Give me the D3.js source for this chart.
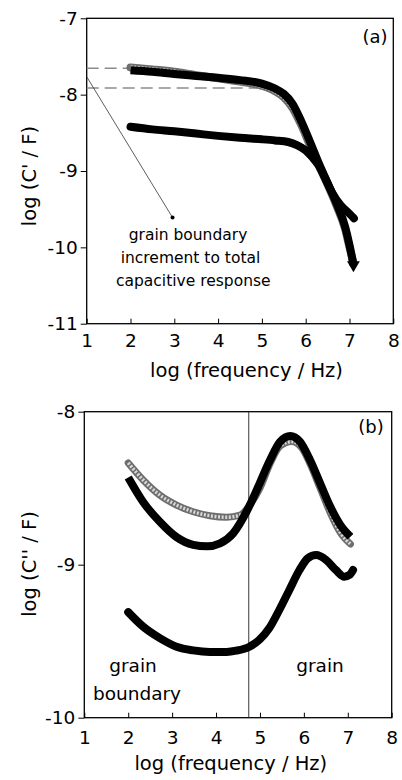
<!DOCTYPE html>
<html><head><meta charset="utf-8">
<script src="https://cdn.jsdelivr.net/npm/d3@7"></script>
<style>
html,body{margin:0;padding:0;background:#fff;}
svg{display:block;}
text{font-family:"DejaVu Sans",sans-serif;fill:#000;}
</style>
</head><body>
<svg id="c" width="402" height="780"></svg>
<script>
// ---------- shared ticks / labels ----------
const xTicks = [1, 2, 3, 4, 5, 6, 7, 8];
const yTicksA = [-7, -8, -9, -10, -11];
const yTicksB = [-8, -9, -10];
const xTitle = "log (frequency / Hz)";
const yTitleA = "log (C' / F)";
const yTitleB = "log (C'' / F)";

// ---------- panel (a): log C' ----------
const aUpperTri = [[2.0,-7.68],[2.5,-7.70],[3.0,-7.73],[3.5,-7.755],[4.0,-7.78],[4.5,-7.81],[5.0,-7.855],[5.3,-7.92],[5.5,-7.99],[5.7,-8.12],[5.9,-8.35],[6.1,-8.62],[6.3,-8.90],[6.5,-9.16],[6.7,-9.42],[6.9,-9.73],[7.0,-9.97],[7.09,-10.23]];
const aUpperOpen = [[2.0,-7.645],[2.5,-7.67],[3.0,-7.70],[3.5,-7.745],[4.0,-7.785],[4.5,-7.83],[5.0,-7.885],[5.3,-7.955],[5.5,-8.035],[5.7,-8.175],[5.9,-8.40],[6.1,-8.67],[6.3,-8.93],[6.5,-9.18],[6.7,-9.45],[6.9,-9.76],[7.0,-10.0],[7.09,-10.2]];
const aLowerCirc = [[2.0,-8.42],[2.5,-8.455],[3.0,-8.48],[3.5,-8.51],[4.0,-8.54],[4.5,-8.565],[5.0,-8.585],[5.3,-8.60],[5.6,-8.62],[5.8,-8.66],[6.0,-8.73],[6.15,-8.82],[6.3,-8.93],[6.45,-9.10],[6.6,-9.28],[6.8,-9.45],[7.0,-9.56],[7.1,-9.62]];
const aDashLevel = [-7.655, -7.913];
const aDashEnd = [2.0, 4.9];
const aLeader = [[1.0,-7.765],[2.96,-9.61]];
const aNote = ["grain boundary", "increment to total", "capacitive response"];

// ---------- panel (b): log C'' ----------
const bOpen = [[2.0,-8.335],[2.34,-8.446],[2.72,-8.545],[3.10,-8.61],[3.48,-8.654],[3.86,-8.68],[4.24,-8.69],[4.55,-8.675],[4.77,-8.61],[5.0,-8.50],[5.23,-8.34],[5.46,-8.225],[5.72,-8.195],[5.95,-8.235],[6.14,-8.34],[6.37,-8.50],[6.6,-8.66],[6.83,-8.79],[7.06,-8.865]];
const bTri = [[2.0,-8.43],[2.34,-8.59],[2.72,-8.72],[3.10,-8.82],[3.48,-8.87],[3.79,-8.88],[4.09,-8.86],[4.39,-8.795],[4.70,-8.65],[4.93,-8.51],[5.23,-8.316],[5.46,-8.196],[5.69,-8.159],[5.91,-8.196],[6.14,-8.316],[6.37,-8.468],[6.6,-8.62],[6.83,-8.74],[7.06,-8.817]];
const bCirc = [[2.0,-9.31],[2.34,-9.405],[2.72,-9.48],[3.10,-9.536],[3.48,-9.56],[3.86,-9.57],[4.24,-9.57],[4.46,-9.562],[4.76,-9.536],[4.99,-9.49],[5.21,-9.416],[5.44,-9.296],[5.67,-9.165],[5.90,-9.035],[6.09,-8.958],[6.28,-8.937],[6.51,-8.97],[6.73,-9.035],[6.92,-9.078],[7.04,-9.067],[7.12,-9.035]];
const bDivider = 4.745;
const bNotesLeft = ["grain", "boundary"];
const bNoteRight = "grain";

const svg = d3.select("#c");

const xa = d3.scaleLinear().domain([1, 8]).range([86.7, 393.3]);
const ya = d3.scaleLinear().domain([-11, -7]).range([323.7, 18.3]);
const xb = d3.scaleLinear().domain([1, 8]).range([84.3, 391.7]);
const yb = d3.scaleLinear().domain([-10, -8]).range([717.7, 411.7]);

function axes(x, y, yTicks, xPad, titleCx, titleBase, yTitle, yTitleCy) {
  const [x0, x1] = x.range();
  const [y0, y1] = y.range();
  const gx = svg.append("g").attr("transform", `translate(0,${y0})`)
    .call(d3.axisBottom(x).tickValues(xTicks).tickSize(-5).tickPadding(xPad).tickFormat(d => String(d)));
  gx.select(".domain").remove();
  gx.attr("font-size", 18.5).attr("font-family", "DejaVu Sans");
  gx.selectAll("line").attr("stroke", "#000").attr("stroke-width", 1);
  const gy = svg.append("g").attr("transform", `translate(${x0},0)`)
    .call(d3.axisLeft(y).tickValues(yTicks).tickSize(6).tickPadding(3).tickFormat(d => String(d)));
  gy.select(".domain").remove();
  gy.attr("font-size", 18.5).attr("font-family", "DejaVu Sans");
  gy.selectAll("line").attr("stroke", "#000").attr("stroke-width", 1);
  svg.append("rect").attr("x", x0).attr("y", y1).attr("width", x1 - x0).attr("height", y0 - y1)
    .attr("fill", "none").attr("stroke", "#000").attr("stroke-width", 1.3);
  svg.append("text").attr("x", titleCx).attr("y", titleBase).attr("text-anchor", "middle")
    .attr("font-size", 19.5).text(xTitle);
  svg.append("text").attr("transform", `translate(36,${yTitleCy}) rotate(-90)`)
    .attr("text-anchor", "middle").attr("font-size", 19.5).text(yTitle);
}

function series(x, y, data, stroke, width, cap) {
  const line = d3.line().x(d => x(d[0])).y(d => y(d[1])).curve(d3.curveMonotoneX);
  return svg.append("path").datum(data).attr("d", line).attr("fill", "none")
    .attr("stroke", stroke).attr("stroke-width", width)
    .attr("stroke-linecap", cap).attr("stroke-linejoin", "round");
}
function openSeries(x, y, data, width) {
  series(x, y, data, "#6e6e6e", width, "round");
  series(x, y, data, "#d8d8d8", width - 3.5, "butt").attr("stroke-dasharray", "2 1.6");
}

// ---------- panel (a) ----------
axes(xa, ya, yTicksA, 10.5, 246.5, 377, yTitleA, 176);

aDashLevel.forEach((lv, i) => {
  svg.append("line").attr("x1", xa(1)).attr("x2", xa(aDashEnd[i]))
    .attr("y1", ya(lv)).attr("y2", ya(lv))
    .attr("stroke", "#8c8c8c").attr("stroke-width", 1.4).attr("stroke-dasharray", "12 6");
});
svg.append("line").attr("x1", xa(aLeader[0][0])).attr("y1", ya(aLeader[0][1]))
  .attr("x2", xa(aLeader[1][0])).attr("y2", ya(aLeader[1][1]))
  .attr("stroke", "#333").attr("stroke-width", 0.8);
svg.append("circle").attr("cx", xa(aLeader[1][0])).attr("cy", ya(aLeader[1][1])).attr("r", 2).attr("fill", "#000");

openSeries(xa, ya, aUpperOpen, 8);
series(xa, ya, aUpperTri, "#000", 8, "butt");
series(xa, ya, aLowerCirc, "#000", 8, "round");
const endT = aUpperTri[aUpperTri.length - 1];
svg.append("path").attr("d", d3.symbol(d3.symbolTriangle, 70)())
  .attr("transform", `translate(${xa(endT[0])},${ya(endT[1])}) rotate(180)`).attr("fill", "#000");

aNote.forEach((t, i) => {
  svg.append("text").attr("x", [188, 190.5, 193.3][i]).attr("y", [240, 263, 286][i])
    .attr("text-anchor", "middle").attr("font-size", 15.5).text(t);
});
svg.append("text").attr("x", 375).attr("y", 43).attr("text-anchor", "middle").attr("font-size", 18).text("(a)");

// ---------- panel (b) ----------
axes(xb, yb, yTicksB, 13, 230.8, 770, yTitleB, 564);

svg.append("line").attr("x1", xb(bDivider)).attr("x2", xb(bDivider))
  .attr("y1", yb(-8)).attr("y2", yb(-10)).attr("stroke", "#222").attr("stroke-width", 0.9);

openSeries(xb, yb, bOpen, 7);
series(xb, yb, bTri, "#000", 8, "butt");
series(xb, yb, bCirc, "#000", 8, "round");

bNotesLeft.forEach((t, i) => {
  svg.append("text").attr("x", [133, 137][i]).attr("y", [672, 700][i])
    .attr("text-anchor", "middle").attr("font-size", 18.5).text(t);
});
svg.append("text").attr("x", 320).attr("y", 672).attr("text-anchor", "middle").attr("font-size", 18.5).text(bNoteRight);
svg.append("text").attr("x", 371).attr("y", 433).attr("text-anchor", "middle").attr("font-size", 18).text("(b)");
</script>
</body></html>
